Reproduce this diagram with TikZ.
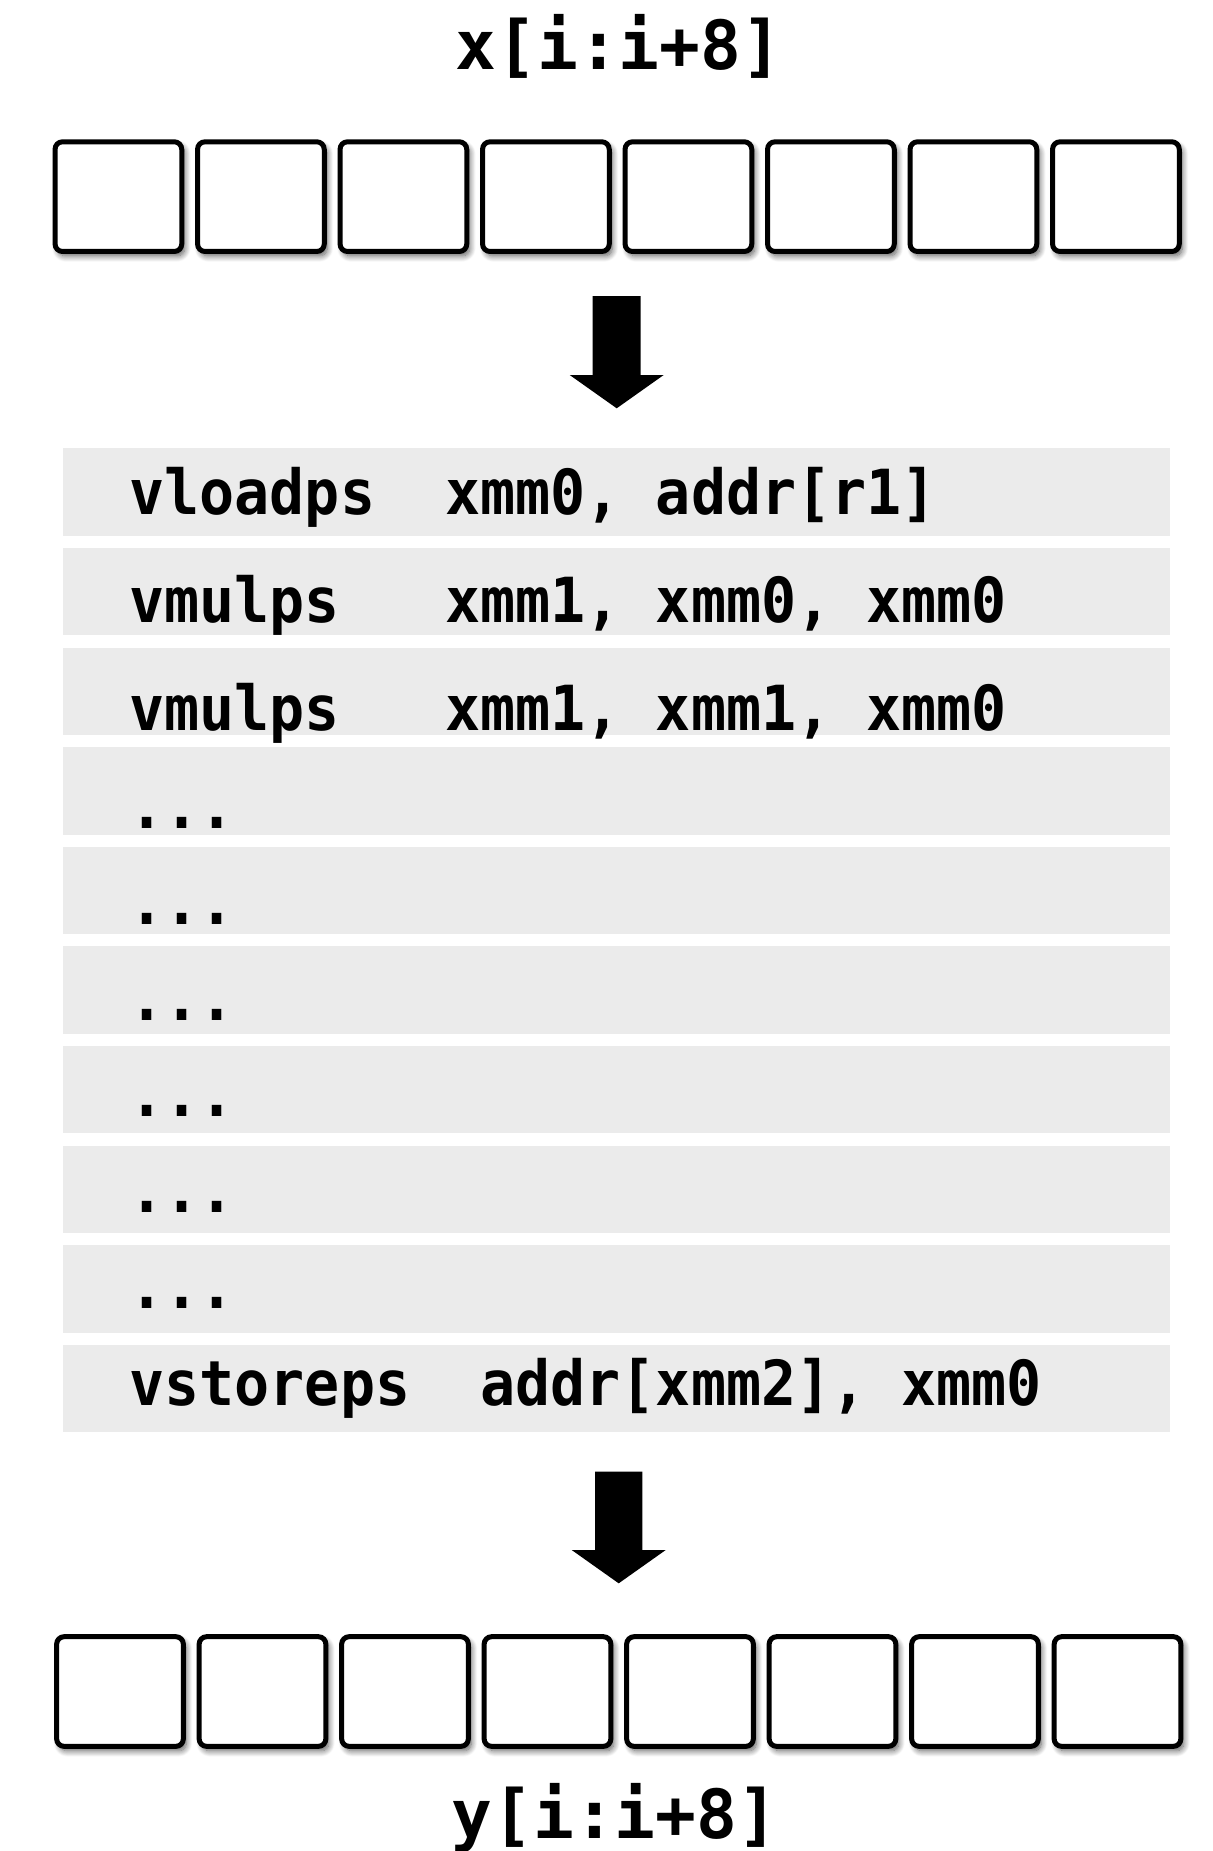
\documentclass[tikz,border=0pt]{standalone}
\usepackage{fontspec}
\usetikzlibrary{shadows.blur}
\newfontfamily\codefont{DejaVu Sans Mono}[FakeStretch=0.938]
\newfontfamily\labelfont{DejaVu Sans Mono}
\definecolor{rowgray}{RGB}{235,235,235}
\tikzset{
  cell/.style={draw=black, line width=2.5pt, rounded corners=3.75pt, fill=white,
    minimum width=63.35pt, minimum height=54.85pt, inner sep=0pt,
    blur shadow={shadow xshift=1.5pt, shadow yshift=-2.2pt,
      shadow blur radius=3pt, shadow blur steps=10, shadow opacity=65}},
  coderow/.style={fill=rowgray, draw=none, inner sep=0pt,
    minimum width=553.65pt, minimum height=43.75pt},
  codetext/.style={anchor=base west, inner sep=0pt,
    font=\codefont\bfseries\fontsize{31.08pt}{31.08pt}\selectfont},
  vectext/.style={anchor=base, inner sep=0pt,
    font=\labelfont\bfseries\fontsize{33.9pt}{33.9pt}\selectfont},
  blockarrow/.style={fill=black}
}
\begin{document}
\begin{tikzpicture}[x=0.5pt, y=-0.5pt]
\useasboundingbox (0,0) rectangle (1213,1851);

% input vector
\node[vectext] (xlabel) at (619,70) {x[i:i+8]};
\foreach \i in {0,...,7}
  \node[cell] (x\i) at ({118.4+142.5*\i},196.65) {};

% load arrow
\coordinate (a1top) at (616.7,296);
\coordinate (a1tip) at (616.7,408.3);
\fill[blockarrow] ([xshift=-12pt]a1top) -- ([xshift=12pt]a1top)
  -- ([xshift=12pt,yshift=-39.5pt]a1top) -- ([xshift=23.5pt,yshift=-39.5pt]a1top)
  -- (a1tip) -- ([xshift=-23.5pt,yshift=-39.5pt]a1top)
  -- ([xshift=-12pt,yshift=-39.5pt]a1top) -- cycle;

% instruction rows
\foreach \i in {1,...,10}
  \node[coderow] (r\i) at (616.35,{448.3+43.75+99.6*(\i-1)}) {};

\node[codetext] (c1) at (129,514) {vloadps~~xmm0,~addr[r1]};
\node[codetext] (c2) at (129,622.7) {vmulps~~~xmm1,~xmm0,~xmm0};
\node[codetext] (c3) at (129,730) {vmulps~~~xmm1,~xmm1,~xmm0};
\node[codetext] (c4) at (129,828.7) {...};
\node[codetext] (c5) at (129,924.7) {...};
\node[codetext] (c6) at (129,1020.4) {...};
\node[codetext] (c7) at (129,1116.4) {...};
\node[codetext] (c8) at (129,1212.1) {...};
\node[codetext] (c9) at (129,1308.1) {...};
\node[codetext] (c10) at (129,1405) {vstoreps~~addr[xmm2],~xmm0};

% store arrow
\coordinate (a2top) at (618.7,1471.7);
\coordinate (a2tip) at (618.7,1583.3);
\fill[blockarrow] ([xshift=-11.8pt]a2top) -- ([xshift=11.8pt]a2top)
  -- ([xshift=11.8pt,yshift=-39.15pt]a2top) -- ([xshift=23.5pt,yshift=-39.15pt]a2top)
  -- (a2tip) -- ([xshift=-23.5pt,yshift=-39.15pt]a2top)
  -- ([xshift=-11.8pt,yshift=-39.15pt]a2top) -- cycle;

% output vector
\foreach \i in {0,...,7}
  \node[cell] (y\i) at ({120+142.5*\i},1691.5) {};
\node[vectext] (ylabel) at (615,1838) {y[i:i+8]};
\end{tikzpicture}
\end{document}
